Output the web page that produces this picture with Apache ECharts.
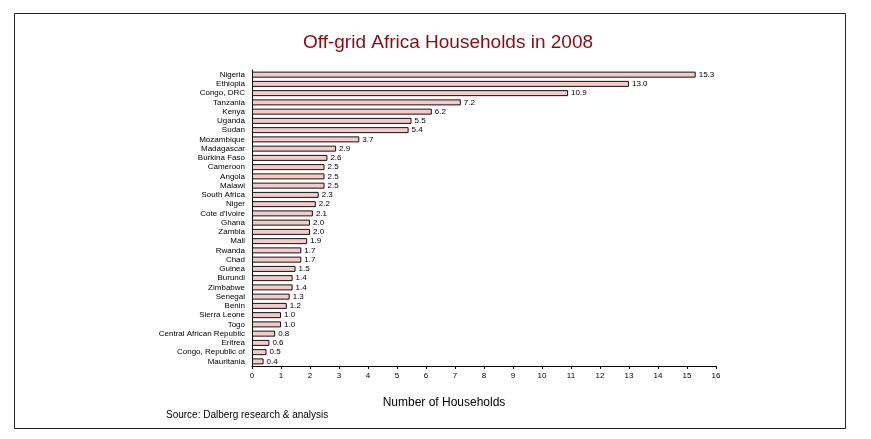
<!DOCTYPE html>
<html>
<head>
<meta charset="utf-8">
<script src="https://cdn.jsdelivr.net/npm/echarts@6/dist/echarts.min.js"></script>
<style>
  html, body { margin: 0; padding: 0; background: #fff; }
  #chart { width: 871px; height: 439px; }
</style>
</head>
<body>
<div id="chart"></div>
<script>
// data
var countries = ['Nigeria', 'Ethiopia', 'Congo, DRC', 'Tanzania', 'Kenya', 'Uganda', 'Sudan',
  'Mozambique', 'Madagascar', 'Burkina Faso', 'Cameroon', 'Angola', 'Malawi', 'South Africa',
  'Niger', "Cote d'Ivoire", 'Ghana', 'Zambia', 'Mali', 'Rwanda', 'Chad', 'Guinea', 'Burundi',
  'Zimbabwe', 'Senegal', 'Benin', 'Sierra Leone', 'Togo', 'Central African Republic',
  'Eritrea', 'Congo, Republic of', 'Mauritania'];
var households = [15.3, 13.0, 10.9, 7.2, 6.2, 5.5, 5.4, 3.7, 2.9, 2.6, 2.5, 2.5, 2.5, 2.3,
  2.2, 2.1, 2.0, 2.0, 1.9, 1.7, 1.7, 1.5, 1.4, 1.4, 1.3, 1.2, 1.0, 1.0, 0.8, 0.6, 0.5, 0.4];
var xTicks = [0, 16, 1];

var myChart = echarts.init(document.getElementById('chart'));
var font = 'Arial, "Liberation Sans", sans-serif';

myChart.setOption({
  animation: false,
  title: {
    text: 'Off-grid Africa Households in 2008',
    left: 443,
    textAlign: 'center',
    top: 28,
    textStyle: { color: '#8b0a14', fontSize: 19, fontWeight: 'normal', fontFamily: font }
  },
  grid: { left: 252, right: 155, top: 70, bottom: 73 },
  graphic: [
    {
      type: 'rect',
      shape: { x: 14.5, y: 13.5, width: 831, height: 415 },
      style: { fill: 'none', stroke: '#222', lineWidth: 1 },
      z: -1
    },
    {
      type: 'text',
      left: 166,
      top: 410,
      style: { text: 'Source: Dalberg research & analysis', fill: '#000', font: '10px ' + font }
    }
  ],
  xAxis: {
    type: 'value',
    min: xTicks[0],
    max: xTicks[1],
    interval: xTicks[2],
    name: 'Number of Households',
    nameLocation: 'middle',
    nameGap: 31,
    nameTextStyle: { color: '#000', fontSize: 12, fontFamily: font, padding: [0, 80, 0, 0] },
    axisLine: { show: true, lineStyle: { color: '#000', width: 1 } },
    axisTick: { show: true, length: 3, lineStyle: { color: '#000' } },
    axisLabel: { color: '#000', fontSize: 8, fontFamily: font, margin: 6 },
    splitLine: { show: false }
  },
  yAxis: {
    type: 'category',
    data: countries,
    inverse: true,
    axisLine: { show: true, lineStyle: { color: '#000', width: 1 } },
    axisTick: { show: false },
    axisLabel: { color: '#000', fontSize: 8, fontFamily: font, margin: 7, interval: 0 }
  },
  series: [{
    type: 'bar',
    data: households,
    barWidth: 6,
    itemStyle: { color: '#f7c9c9', borderColor: '#111', borderWidth: 1 },
    label: {
      show: true,
      position: 'right',
      distance: 3,
      color: '#000',
      fontSize: 8,
      fontFamily: font,
      formatter: function (p) { return p.value.toFixed(1); }
    }
  }]
});
</script>
</body>
</html>
